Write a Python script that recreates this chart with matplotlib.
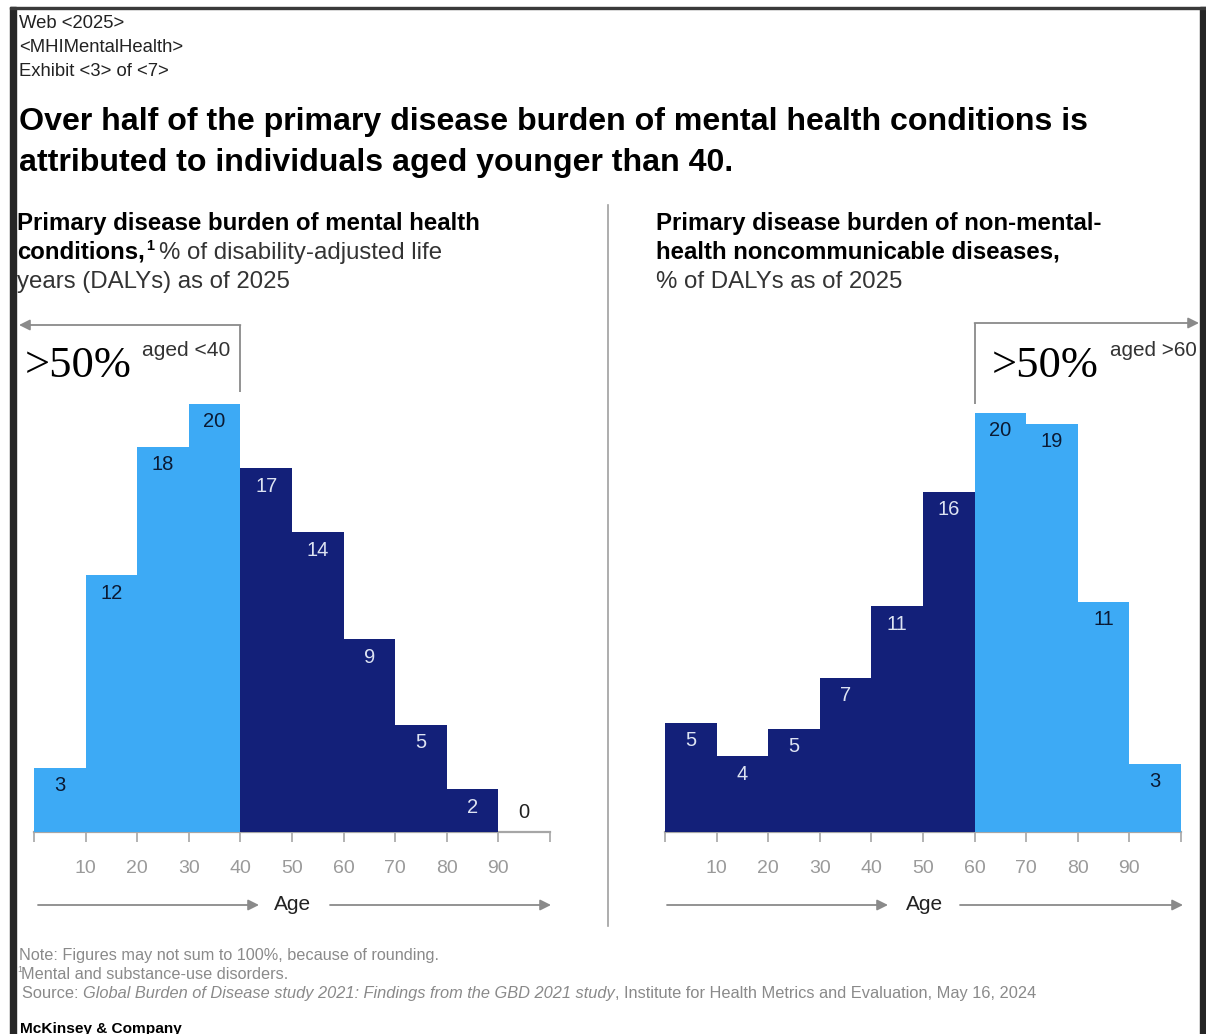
import matplotlib
matplotlib.use("Agg")
import matplotlib.pyplot as plt
from matplotlib.patches import Rectangle
from matplotlib.lines import Line2D

# ---------------- data ----------------
age_bins = [0, 10, 20, 30, 40, 50, 60, 70, 80, 90]
tick_positions = [0, 10, 20, 30, 40, 50, 60, 70, 80, 90, 100]
tick_labels = ["", "10", "20", "30", "40", "50", "60", "70", "80", "90", ""]

mental_values = [3, 12, 18, 20, 17, 14, 9, 5, 2, 0]
mental_labels = ["3", "12", "18", "20", "17", "14", "9", "5", "2", "0"]

ncd_values = [5.1, 3.55, 4.83, 7.2, 10.55, 15.9, 19.6, 19.08, 10.76, 3.19]
ncd_labels = ["5", "4", "5", "7", "11", "16", "20", "19", "11", "3"]

mental_split = 40   # bins below this age are highlighted
ncd_split = 60      # bins at/above this age are highlighted

LIGHT = "#3DAAF5"
NAVY = "#132079"
GREY = "#9a9a9a"
ARROW = "#8a8a8a"

W, H = 1206, 1034
DPI = 100
fig = plt.figure(figsize=(W / DPI, H / DPI), dpi=DPI)
fig.patch.set_facecolor("white")
renderer = fig.canvas.get_renderer()

SANS = ["Liberation Sans", "DejaVu Sans"]
SERIF = ["Liberation Serif", "DejaVu Serif"]


def fx(px):
    return px / W


def fy(py):
    return 1 - py / H


def ftext(px, py, s, **kw):
    kw.setdefault("family", SANS)
    kw.setdefault("va", "baseline")
    kw.setdefault("ha", "left")
    return fig.text(fx(px), fy(py), s, **kw)


def width_px(t):
    return t.get_window_extent(renderer).width


def fit(t, target):
    t.set_fontsize(t.get_fontsize() * target / width_px(t))
    return t.get_fontsize()


def pieces(px, py, parts, size):
    x = px
    out = []
    for s, kw in parts:
        t = ftext(x, py, s, fontsize=size, **kw)
        x += width_px(t)
        out.append(t)
    return out


# ---------------- frame (screenshot border) ----------------
fig.patches.append(Rectangle((fx(10), 0), fx(6), fy(7), transform=fig.transFigure,
                             color="#262626", zorder=10))
fig.patches.append(Rectangle((fx(1200), 0), fx(6), fy(7), transform=fig.transFigure,
                             color="#262626", zorder=10))
fig.patches.append(Rectangle((fx(10), fy(9)), fx(1206 - 10), 2 / H, transform=fig.transFigure,
                             color="#3a3a3a", zorder=10))

# ---------------- header ----------------
t = ftext(19, 52, "<MHIMentalHealth>", fontsize=12, color="#222222")
hs = fit(t, 165)
ftext(19, 28, "Web <2025>", fontsize=hs, color="#222222")
ftext(19, 76, "Exhibit <3> of <7>", fontsize=hs, color="#222222")

t = ftext(19, 130, "Over half of the primary disease burden of mental health conditions is",
          fontsize=20, fontweight="bold", color="black")
ts = fit(t, 1069)
ftext(19, 171, "attributed to individuals aged younger than 40.", fontsize=ts,
      fontweight="bold", color="black")

# ---------------- subtitles ----------------
t = ftext(17, 230, "Primary disease burden of mental health", fontsize=15,
          fontweight="bold", color="black")
ss = fit(t, 465)
p = pieces(17, 259, [("conditions,", dict(fontweight="bold", color="black"))], ss)
xs = 17 + width_px(p[0]) + 1
sup = ftext(xs, 250, "1", fontsize=ss * 0.6, fontweight="bold", color="black")
xp = max(xs + width_px(sup) + 5, 158)
ftext(xp, 259, "% of disability-adjusted life", fontsize=ss, color="#333333")
ftext(17, 288, "years (DALYs) as of 2025", fontsize=ss, color="#333333")

ftext(656, 230, "Primary disease burden of non-mental-", fontsize=ss,
      fontweight="bold", color="black")
ftext(656, 259, "health noncommunicable diseases,", fontsize=ss,
      fontweight="bold", color="black")
ftext(656, 288, "% of DALYs as of 2025", fontsize=ss, color="#333333")

# divider
fig.add_artist(Line2D([fx(608), fx(608)], [fy(205), fy(926)], color="#a0a0a0", lw=1.2))

# ---------------- footnotes ----------------
t = ftext(19, 960, "Note: Figures may not sum to 100%, because of rounding.",
          fontsize=10, color="#8a8a8a")
ns = fit(t, 421)
ftext(17, 972, "1", fontsize=ns * 0.55, color="#8a8a8a")
ftext(21, 979, "Mental and substance-use disorders.", fontsize=ns, color="#8a8a8a")
parts = [("Source: ", dict(color="#8a8a8a")),
         ("Global Burden of Disease study 2021: Findings from the GBD 2021 study",
          dict(color="#8a8a8a", style="italic")),
         (", Institute for Health Metrics and Evaluation, May 16, 2024",
          dict(color="#8a8a8a"))]
src = pieces(22, 998, parts, ns)
total = sum(width_px(p) for p in src)
scale = 1011 / total
for p in src:
    p.remove()
pieces(22, 998, parts, ns * scale)
t = ftext(20, 1033, "McKinsey & Company", fontsize=11, color="black", fontweight="bold")
fit(t, 162)

# ---------------- charts ----------------
PX_PER_UNIT = 21.4
BASE = 832
TOP = 300
ymax = (BASE - TOP) / PX_PER_UNIT


def val(py):
    return (BASE - py) / PX_PER_UNIT


def make_axes(left_px):
    ax = fig.add_axes([fx(left_px), 1 - BASE / H, 516 / W, (BASE - TOP) / H])
    ax.set_xlim(0, 100)
    ax.set_ylim(0, ymax)
    for s in ("left", "right", "top"):
        ax.spines[s].set_visible(False)
    ax.spines["bottom"].set_color("#a6a6a6")
    ax.spines["bottom"].set_linewidth(1.6)
    ax.spines["bottom"].set_zorder(1)
    ax.set_yticks([])
    ax.set_xticks(tick_positions)
    ax.set_xticklabels(tick_labels)
    ax.tick_params(axis="x", length=7.5, width=1.2, color="#a6a6a6", pad=13,
                   labelsize=14, labelcolor=GREY)
    for lab in ax.get_xticklabels():
        lab.set_family(SANS)
    ax.patch.set_alpha(0)
    return ax


def draw_bars(ax, values, labels, colors):
    ax.bar(age_bins, values, width=10, align="edge", color=colors,
           linewidth=0, antialiased=False, zorder=2)
    for x, v, lab, c in zip(age_bins, values, labels, colors):
        if v < 0.5:
            ax.annotate(lab, (x + 5, v), xytext=(0, 19 * 0.72), textcoords="offset points",
                        ha="center", va="center", fontsize=14.5, color="#222222",
                        family=SANS, zorder=3)
        else:
            tc = "#0b1a33" if c == LIGHT else "#dde3f2"
            ax.annotate(lab, (x + 5, v), xytext=(0, -18 * 0.72), textcoords="offset points",
                        ha="center", va="center", fontsize=14.5, color=tc,
                        family=SANS, zorder=3)


def age_arrows(ax, x0, x1, x2, x3, xa):
    y = val(905)
    for a, b in ((x0, x1), (x2, x3)):
        ax.annotate("", xy=(b, y), xytext=(a, y), annotation_clip=False,
                    arrowprops=dict(arrowstyle="-|>", color=ARROW, lw=1.3,
                                    mutation_scale=16, shrinkA=0, shrinkB=0))
    ax.text(xa, y, "Age", ha="center", va="center", fontsize=15, color="#222222",
            family=SANS, clip_on=False)


def px2x(px, left_px):
    return (px - left_px) / 5.16


# left chart
axL = make_axes(34)
colL = [LIGHT if b < mental_split else NAVY for b in age_bins]
draw_bars(axL, mental_values, mental_labels, colL)
age_arrows(axL, px2x(38, 34), px2x(259, 34), px2x(330, 34), px2x(551, 34), px2x(293, 34))
# bracket
yb = val(325)
axL.plot([40, 40], [val(392), yb], color=ARROW, lw=1.3, clip_on=False, solid_capstyle="butt")
axL.annotate("", xy=(px2x(19, 34), yb), xytext=(40, yb), annotation_clip=False,
             arrowprops=dict(arrowstyle="-|>", color=ARROW, lw=1.3, mutation_scale=16,
                             shrinkA=0, shrinkB=0))
t = axL.text(px2x(25, 34), val(377), ">50%", ha="left", va="baseline", fontsize=32,
             color="black", family=SERIF, clip_on=False)
fit(t, 107)
t = axL.text(px2x(142, 34), val(356), "aged <40", ha="left", va="baseline", fontsize=14,
             color="#333333", family=SANS, clip_on=False)
fit(t, 89)

# right chart
axR = make_axes(665)
colR = [NAVY if b < ncd_split else LIGHT for b in age_bins]
draw_bars(axR, ncd_values, ncd_labels, colR)
age_arrows(axR, px2x(667, 665), px2x(888, 665), px2x(960, 665), px2x(1183, 665),
           px2x(925, 665))
yb = val(323)
axR.plot([60, 60], [val(404), yb], color=ARROW, lw=1.3, clip_on=False, solid_capstyle="butt")
axR.annotate("", xy=(px2x(1199, 665), yb), xytext=(60, yb), annotation_clip=False,
             arrowprops=dict(arrowstyle="-|>", color=ARROW, lw=1.3, mutation_scale=16,
                             shrinkA=0, shrinkB=0))
t = axR.text(px2x(992, 665), val(377), ">50%", ha="left", va="baseline", fontsize=32,
             color="black", family=SERIF, clip_on=False)
fit(t, 107)
t = axR.text(px2x(1110, 665), val(356), "aged >60", ha="left", va="baseline", fontsize=14,
             color="#333333", family=SANS, clip_on=False)
fit(t, 88)

fig.savefig("out.png", dpi=DPI, facecolor="white")
